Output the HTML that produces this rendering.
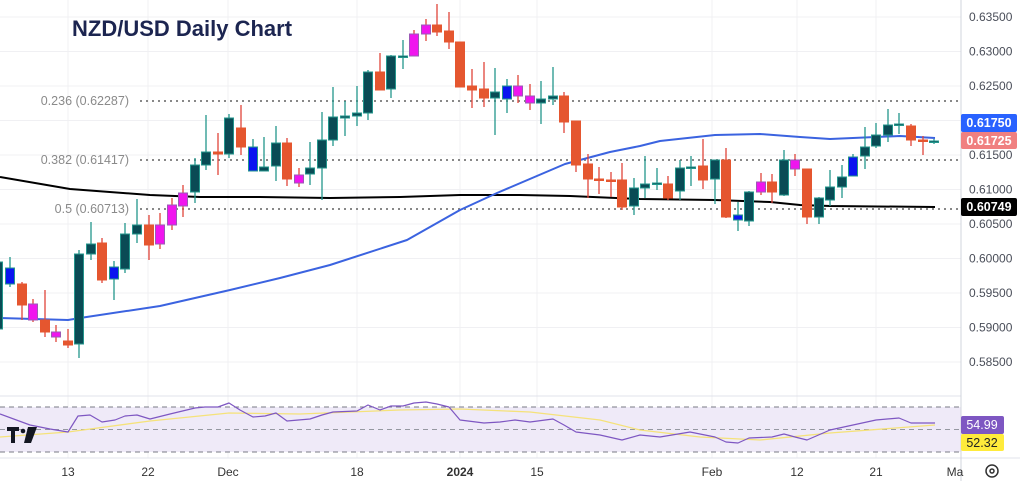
<!DOCTYPE html>
<html><head><meta charset="utf-8"><style>
html,body{margin:0;padding:0;background:#fff;}
svg{display:block;font-family:"Liberation Sans",sans-serif;}
</style></head><body>
<svg id="s" width="1020" height="481" viewBox="0 0 1020 481" xmlns="http://www.w3.org/2000/svg">
<rect width="1020" height="481" fill="#fff"/>
<g id="grid" stroke="#f0f0f3" stroke-width="1"></g>
<rect x="0" y="407" width="961" height="45" fill="#efeaf8"/>
<line x1="0" y1="407" x2="961" y2="407" stroke="#787b86" stroke-dasharray="5,4"/>
<line x1="0" y1="429.5" x2="961" y2="429.5" stroke="#9598a1" stroke-dasharray="5,4"/>
<line x1="0" y1="452" x2="961" y2="452" stroke="#787b86" stroke-dasharray="5,4"/>
<line x1="0" y1="396" x2="961" y2="396" stroke="#e0e3eb"/>
<line x1="0" y1="458" x2="1020" y2="458" stroke="#e0e3eb"/>
<line x1="961" y1="0" x2="961" y2="481" stroke="#d1d4dc"/>
<g stroke="#888" stroke-width="2" stroke-dasharray="2,4">
<line x1="140" y1="101" x2="960" y2="101"/>
<line x1="140" y1="160" x2="960" y2="160"/>
<line x1="140" y1="209" x2="960" y2="209"/>
</g>
<g font-size="12.5" fill="#8a8a8a" text-anchor="end">
<text x="129" y="105">0.236 (0.62287)</text>
<text x="129" y="164">0.382 (0.61417)</text>
<text x="129" y="213">0.5 (0.60713)</text>
</g>
<g id="ma"></g>
<g id="c"></g>
<g id="rsi"></g>
<text x="72" y="36" font-size="22" font-weight="bold" fill="#1c2550">NZD/USD Daily Chart</text>
<g font-size="12" fill="#4a4e59" text-anchor="start" id="yl"></g>
<rect x="961" y="114" width="56" height="18" rx="2" fill="#2962ff"/>
<text x="989" y="127" font-size="12.5" font-weight="bold" fill="#fff" text-anchor="middle">0.61750</text>
<rect x="961" y="132" width="56" height="17" rx="2" fill="#f08080"/>
<text x="989" y="145" font-size="12.5" font-weight="bold" fill="#fff" text-anchor="middle">0.61725</text>
<rect x="961" y="198" width="56" height="18" rx="2" fill="#000"/>
<text x="989" y="211" font-size="12.5" font-weight="bold" fill="#fff" text-anchor="middle">0.60749</text>
<rect x="961" y="416" width="43" height="18" rx="2" fill="#7e57c2"/>
<text x="982" y="429" font-size="12.5" fill="#fff" text-anchor="middle">54.99</text>
<rect x="961" y="434" width="43" height="17" rx="2" fill="#ffeb3b"/>
<text x="982" y="447" font-size="12.5" fill="#222" text-anchor="middle">52.32</text>
<g font-size="12" fill="#333" text-anchor="middle">
<text x="68" y="476">13</text><text x="148" y="476">22</text><text x="228" y="476">Dec</text>
<text x="357" y="476">18</text><text x="460" y="476" font-weight="bold">2024</text>
<text x="537" y="476">15</text><text x="712" y="476">Feb</text><text x="797" y="476">12</text>
<text x="876" y="476">21</text><text x="955" y="476">Ma</text>
</g>
<circle cx="992" cy="471" r="6" fill="none" stroke="#333" stroke-width="1.5"/>
<circle cx="992" cy="471" r="2" fill="none" stroke="#333" stroke-width="1.5"/>
<g fill="#131722">
<path d="M7 427h12v4h-4v12h-4v-12h-4z"/>
<circle cx="23" cy="431" r="2.3"/>
<path d="M28 427h9l-6 16h-7z"/>
</g>
</svg>
<script>
var NS="http://www.w3.org/2000/svg";
function el(p,t,a){var e=document.createElementNS(NS,t);for(var k in a)e.setAttribute(k,a[k]);document.getElementById(p).appendChild(e);return e;}
// grid
for(var i=0;i<11;i++){var y=17+i*34.5;el("grid","line",{x1:0,y1:y,x2:961,y2:y});}
[68,148,228,357,460,537,712,797,876].forEach(function(x){el("grid","line",{x1:x,y1:0,x2:x,y2:458});});
var labs=["0.63500","0.63000","0.62500","0.62000","0.61500","0.61000","0.60500","0.60000","0.59500","0.59000","0.58500"];
labs.forEach(function(l,i){var y=17+i*34.5;if(l=="0.62000")return;var t=el("yl","text",{x:969,y:y+4});t.textContent=l;});
// MA lines
function poly(pts,col,w,g){el(g,"polyline",{points:pts.map(function(p){return p.join(",")}).join(" "),fill:"none",stroke:col,"stroke-width":w,"stroke-linejoin":"round"});}
poly([[0,177],[70,189],[150,195],[200,197],[260,197],[330,198],[400,197],[460,195],[520,195],[570,196],[640,199],[715,200],[770,202],[800,205],[830,206],[935,207]],"#000",2,"ma");
poly([[0,318],[68,320],[80,318],[160,306],[230,290],[280,278],[330,265],[407,240],[460,210],[497,193],[565,164],[580,160],[610,152],[640,146],[660,141],[715,135],[760,134],[800,137],[830,139],[900,136],[935,138]],"#3b63e0",2,"ma");
// candles: x, top, bottom, high, low, type
var C=[[-2,262,329,255,332,"d"],[10,268,284,257,287,"b"],[22,284,305,282,320,"o"],[33,304,320,299,322,"m"],[45,320,332,290,337,"o"],[56,332,337,325,342,"m"],[68,341,345,329,348,"o"],[79,254,344,250,358,"d"],[91,244,254,222,260,"d"],[102,243,280,238,283,"o"],[114,267,279,261,300,"b"],[125,234,269,223,273,"d"],[137,225,234,199,243,"d"],[149,225,245,215,260,"o"],[160,225,244,213,249,"m"],[172,205,225,198,230,"m"],[183,193,206,185,217,"m"],[195,165,192,158,203,"d"],[206,152,165,115,170,"d"],[218,152,154,133,175,"o"],[229,118,154,114,158,"d"],[241,128,147,105,155,"o"],[253,147,171,139,171,"b"],[264,167,171,137,171,"d"],[276,143,166,126,181,"d"],[287,143,179,138,186,"o"],[299,175,183,168,187,"m"],[310,168,174,142,185,"d"],[322,140,168,112,200,"d"],[333,117,140,87,146,"d"],[345,116,118,101,136,"d"],[357,113,116,86,126,"d"],[368,72,113,70,120,"d"],[380,72,90,53,90,"o"],[391,56,89,55,98,"d"],[403,56,57,40,69,"d"],[414,34,56,30,56,"m"],[426,25,34,19,41,"m"],[437,25,32,4,36,"o"],[449,31,42,12,49,"o"],[460,42,87,42,87,"o"],[472,86,90,69,108,"o"],[484,89,98,62,107,"o"],[495,92,98,68,135,"d"],[507,86,99,79,113,"b"],[518,86,96,75,103,"m"],[530,96,103,84,110,"m"],[541,99,103,81,124,"d"],[553,96,99,67,105,"d"],[564,96,122,92,133,"o"],[576,121,165,121,172,"o"],[588,164,179,154,198,"o"],[599,179,180,167,194,"o"],[611,180,181,172,197,"o"],[622,180,207,163,210,"o"],[634,188,206,178,215,"d"],[645,184,188,156,198,"d"],[657,183,184,168,190,"d"],[668,184,198,176,200,"o"],[680,168,191,160,200,"d"],[691,167,168,156,186,"d"],[703,166,180,139,189,"o"],[715,160,179,160,204,"d"],[726,160,217,148,218,"o"],[738,215,220,202,231,"b"],[749,192,221,191,226,"d"],[761,182,192,173,195,"m"],[772,182,192,174,203,"o"],[784,160,195,150,196,"d"],[795,160,169,154,176,"m"],[807,169,217,169,224,"o"],[819,198,217,197,224,"d"],[830,187,200,170,206,"d"],[842,177,187,165,198,"d"],[853,157,176,154,176,"b"],[865,147,156,127,169,"d"],[876,135,146,123,148,"d"],[888,125,135,109,142,"d"],[899,124,125,113,134,"d"],[911,126,140,124,146,"o"],[923,140,141,136,155,"o"],[934,141,142,139,144,"d"]];
var fill={d:"#0a4b55",o:"#e5562f",m:"#f015ee",b:"#0a14f0"};
var wick={d:"#23968c",o:"#e0453a",m:"#e0453a",b:"#23968c"};
var stroke={d:"#23968c",o:"#e5562f",m:"#9b59b6",b:"#23968c"};
C.forEach(function(c){
 el("c","line",{x1:c[0],y1:c[3],x2:c[0],y2:c[4],stroke:wick[c[5]],"stroke-width":1.3});
 var h=Math.max(c[2]-c[1],1.5);
 el("c","rect",{x:c[0]-4.5,y:c[1],width:9,height:h,fill:fill[c[5]],stroke:stroke[c[5]],"stroke-width":1});
});
poly([[0,437],[68,432],[150,421],[229,413],[300,414],[400,410],[460,409],[530,412],[600,420],[640,430],[700,437],[760,440],[830,433],[935,425]],"#f5e27a",1.3,"rsi");
poly([[0,414],[30,425],[50,429],[68,432],[78,416],[90,415],[102,422],[115,420],[125,416],[137,415],[150,419],[170,414],[195,408],[205,407],[218,407],[229,403],[240,410],[253,417],[265,416],[276,413],[287,421],[310,419],[322,415],[333,412],[357,411],[368,405],[380,410],[391,406],[403,406],[414,403],[426,402],[437,404],[449,407],[460,420],[484,423],[500,422],[515,420],[530,422],[553,419],[564,425],[576,432],[600,435],[622,440],[640,435],[660,437],[690,432],[715,437],[726,442],[738,443],[749,438],[772,437],[784,434],[795,437],[807,440],[830,430],[853,425],[876,420],[899,418],[911,423],[935,423]],"#7e57c2",1.2,"rsi");
</script>
</body></html>
